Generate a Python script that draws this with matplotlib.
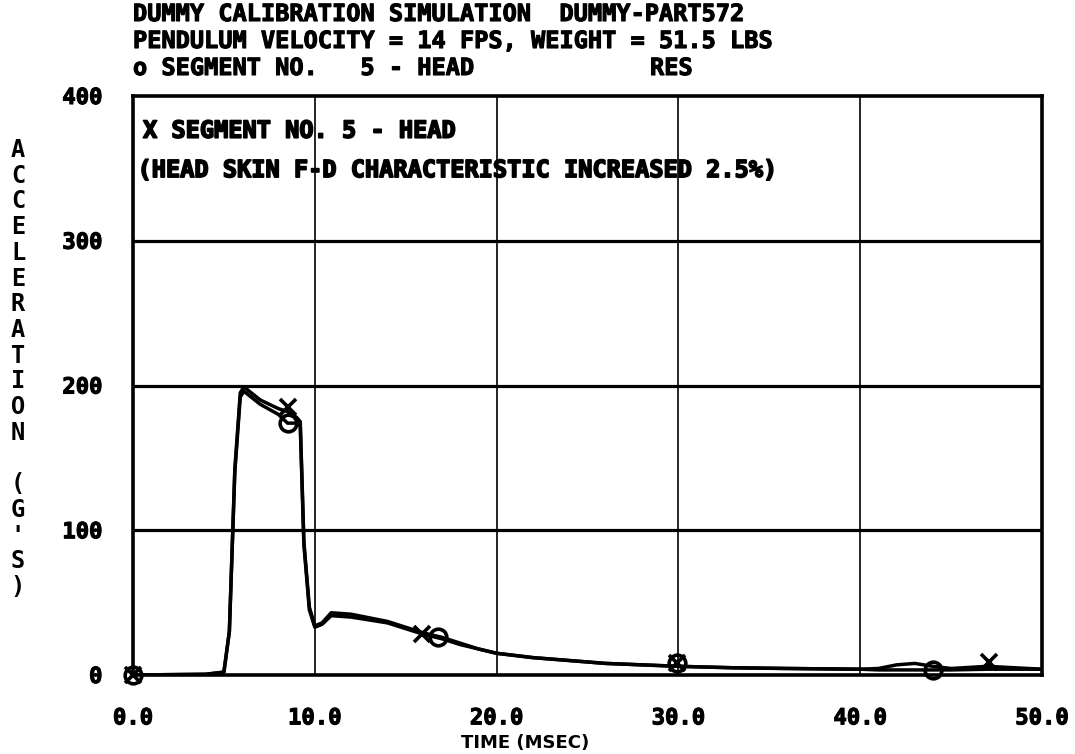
import matplotlib
matplotlib.use("Agg")
import matplotlib.pyplot as plt
import matplotlib.patheffects as pe

# time axis (msec) shared by both traces
time_ms = [0.0, 4.0, 5.0, 5.3, 5.6, 5.9, 6.1, 7.0, 8.0, 8.5, 9.0, 9.2, 9.4, 9.7,
           10.0, 10.4, 10.9, 12.0, 14.0, 15.0, 16.0, 17.0, 18.0, 19.0, 20.0,
           22.0, 24.0, 26.0, 28.0, 30.0, 33.0, 36.0, 40.0, 41.0, 42.0, 43.0,
           44.0, 45.0, 47.0, 50.0]
# o  segment no. 5 - head
accel_o = [0, 0.5, 2, 30, 140, 192, 196, 187, 180, 174, 174, 172, 90, 45,
           33, 35, 41, 40, 36, 32, 28, 25, 21, 18, 15,
           12, 10, 8, 7, 6, 5, 4.5, 4, 3.5, 3.5, 3.5,
           3.5, 3.5, 4, 4]
# X  segment no. 5 - head (skin F-D increased 2.5%)
accel_x = [0, 0.5, 2, 30, 142, 195, 199, 190, 184, 182, 178, 175, 92, 47,
           34, 36, 43, 42, 37, 33, 29, 26, 22, 18, 15,
           12, 10, 8, 7, 6, 5, 4.5, 4, 4.5, 7, 8,
           6, 4.5, 6, 4]

# plot symbols placed along the traces
mark_o_t = [0.0, 8.5, 16.8, 29.9, 44.0]
mark_o_v = [0, 174, 26, 8, 3.5]
mark_x_t = [0.0, 8.5, 15.9, 29.9, 47.1]
mark_x_v = [0, 185, 28, 8, 9]

xticks = [0, 10, 20, 30, 40, 50]
xtick_labels = ["0.0", "10.0", "20.0", "30.0", "40.0", "50.0"]
yticks = [0, 100, 200, 300, 400]
ytick_labels = ["0", "100", "200", "300", "400"]

title_lines = ["DUMMY CALIBRATION SIMULATION  DUMMY-PART572",
               "PENDULUM VELOCITY = 14 FPS, WEIGHT = 51.5 LBS",
               "o SEGMENT NO.   5 - HEAD"]
ylabel_text = "ACCELERATION (G'S)"

MONO = "DejaVu Sans Mono"
W, H = 1075, 754
fig = plt.figure(figsize=(W / 100, H / 100), dpi=100)
left, right, top, bottom = 133, 1042, 96, 675
ax = fig.add_axes([left / W, 1 - bottom / H, (right - left) / W, (bottom - top) / H])

ax.plot(time_ms, accel_o, color="black", lw=2.5)
ax.plot(time_ms, accel_x, color="black", lw=2.5)
ax.plot(mark_o_t, mark_o_v, "o", mfc="none", mec="black", ms=12, mew=2.6, clip_on=False)
ax.plot(mark_x_t, mark_x_v, "x", color="black", ms=12, mew=2.6, clip_on=False)

ax.set_xlim(0, 50)
ax.set_ylim(0, 400)
ax.set_xticks(xticks)
ax.set_xticklabels(xtick_labels)
ax.set_yticks(yticks)
ax.set_yticklabels(ytick_labels)
ax.tick_params(axis="both", length=0)
ax.tick_params(axis="x", pad=24)
ax.tick_params(axis="y", pad=22)
bold_fx = [pe.withStroke(linewidth=0.8, foreground="black")]
for lab in ax.get_xticklabels() + ax.get_yticklabels():
    lab.set_family(MONO)
    lab.set_fontweight("bold")
    lab.set_fontsize(16)
    lab.set_path_effects(bold_fx)

for y in yticks[1:-1]:
    ax.axhline(y, color="black", lw=2.3)
for x in xticks[1:-1]:
    ax.axvline(x, color="black", lw=1.2)
for s in ax.spines.values():
    s.set_linewidth(2.6)

heavy = [pe.withStroke(linewidth=1.2, foreground="black")]
ax.text(0.011, 0.94, "X SEGMENT NO. 5 - HEAD", transform=ax.transAxes,
        family=MONO, fontsize=17, fontweight="bold", va="center",
        path_effects=heavy)
ax.text(0.005, 0.872, "(HEAD SKIN F-D CHARACTERISTIC INCREASED 2.5%)",
        transform=ax.transAxes, family=MONO, fontsize=17, fontweight="bold",
        va="center", path_effects=heavy)

for i, line in enumerate(title_lines):
    fig.text(left / W, 1 - (14 + 27 * i) / H, line, family=MONO, fontsize=17,
             fontweight="bold", va="center", ha="left", path_effects=bold_fx)
fig.text(650 / W, 1 - 68 / H, "RES", family=MONO, fontsize=17,
         fontweight="bold", va="center", ha="left", path_effects=bold_fx)

for i, ch in enumerate(ylabel_text):
    fig.text(18 / W, 1 - (150 + 25.7 * i) / H, ch, fontsize=17,
             fontweight="bold", family=MONO, ha="center", va="center")

fig.text(525 / W, 1 - 743 / H, "TIME (MSEC)", fontsize=13, fontweight="bold",
         ha="center", va="center")

fig.savefig("out.png", dpi=100)
